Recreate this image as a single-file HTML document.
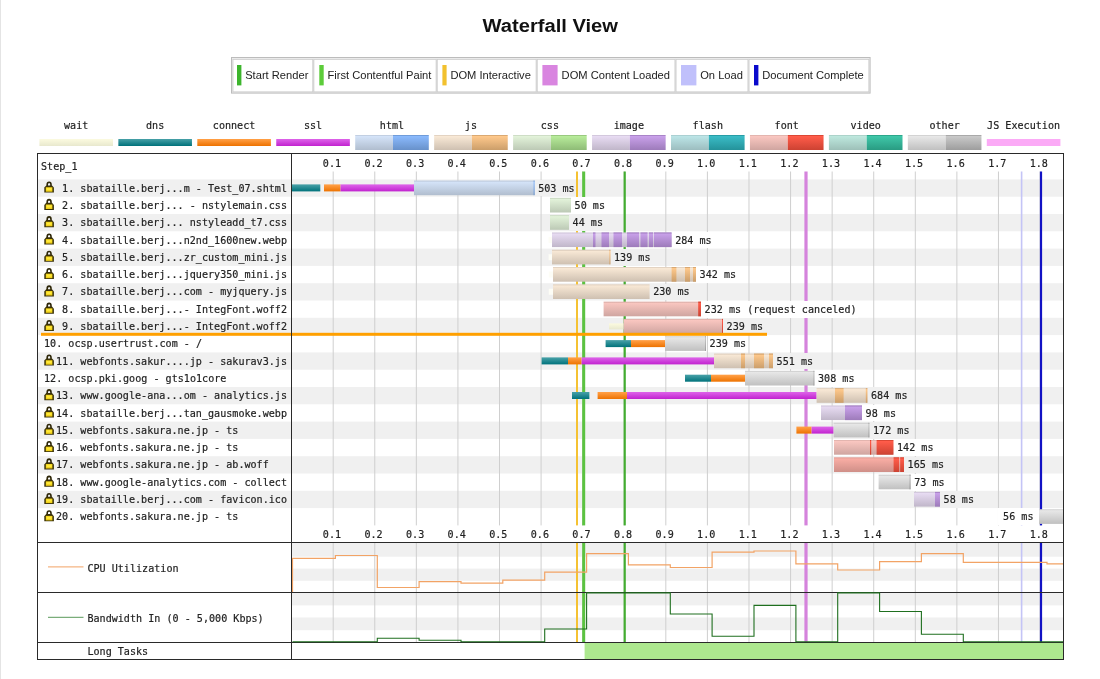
<!DOCTYPE html>
<html lang="en">
<head>
<meta charset="utf-8">
<title>Waterfall View</title>
<style>
html,body{margin:0;padding:0;background:#fff;}
body{width:1100px;height:679px;overflow:hidden;}
svg{display:block;}
text{white-space:pre;}
</style>
</head>
<body>
<svg width="1100" height="679" viewBox="0 0 1100 679">
<defs>
<linearGradient id="g_wait" x1="0" y1="0" x2="0" y2="1"><stop offset="0" stop-color="#faf9de"/><stop offset="0.06" stop-color="#faf9de"/><stop offset="0.1" stop-color="#faf9de"/><stop offset="1" stop-color="#e8e8ce"/></linearGradient>
<linearGradient id="g_dns" x1="0" y1="0" x2="0" y2="1"><stop offset="0" stop-color="#429da4"/><stop offset="0.06" stop-color="#429da4"/><stop offset="0.1" stop-color="#429da4"/><stop offset="1" stop-color="#00727b"/></linearGradient>
<linearGradient id="g_connect" x1="0" y1="0" x2="0" y2="1"><stop offset="0" stop-color="#ff9d42"/><stop offset="0.06" stop-color="#ff9d42"/><stop offset="0.1" stop-color="#ff9d42"/><stop offset="1" stop-color="#ed7200"/></linearGradient>
<linearGradient id="g_ssl" x1="0" y1="0" x2="0" y2="1"><stop offset="0" stop-color="#db5ee7"/><stop offset="0.06" stop-color="#db5ee7"/><stop offset="0.1" stop-color="#db5ee7"/><stop offset="1" stop-color="#c122cf"/></linearGradient>
<linearGradient id="g_html_l70" x1="0" y1="0" x2="0" y2="1"><stop offset="0" stop-color="#c2cfe2"/><stop offset="0.06" stop-color="#c2cfe2"/><stop offset="0.1" stop-color="#d4e3f8"/><stop offset="1" stop-color="#b0bdce"/></linearGradient>
<linearGradient id="g_html" x1="0" y1="0" x2="0" y2="1"><stop offset="0" stop-color="#709cd9"/><stop offset="0.06" stop-color="#709cd9"/><stop offset="0.1" stop-color="#8ab9fc"/><stop offset="1" stop-color="#6891ca"/></linearGradient>
<linearGradient id="g_js_l70" x1="0" y1="0" x2="0" y2="1"><stop offset="0" stop-color="#e3d3c2"/><stop offset="0.06" stop-color="#e3d3c2"/><stop offset="0.1" stop-color="#f8e8d5"/><stop offset="1" stop-color="#cec0b1"/></linearGradient>
<linearGradient id="g_js" x1="0" y1="0" x2="0" y2="1"><stop offset="0" stop-color="#daa972"/><stop offset="0.06" stop-color="#daa972"/><stop offset="0.1" stop-color="#fec88b"/><stop offset="1" stop-color="#cb9e6a"/></linearGradient>
<linearGradient id="g_css_l70" x1="0" y1="0" x2="0" y2="1"><stop offset="0" stop-color="#ceddc6"/><stop offset="0.06" stop-color="#ceddc6"/><stop offset="0.1" stop-color="#e2f2d9"/><stop offset="1" stop-color="#bcc9b5"/></linearGradient>
<linearGradient id="g_css" x1="0" y1="0" x2="0" y2="1"><stop offset="0" stop-color="#99c97f"/><stop offset="0.06" stop-color="#99c97f"/><stop offset="0.1" stop-color="#b7eb9a"/><stop offset="1" stop-color="#8ebb76"/></linearGradient>
<linearGradient id="g_image_l70" x1="0" y1="0" x2="0" y2="1"><stop offset="0" stop-color="#d3c8dd"/><stop offset="0.06" stop-color="#d3c8dd"/><stop offset="0.1" stop-color="#e7dbf2"/><stop offset="1" stop-color="#c0b6c9"/></linearGradient>
<linearGradient id="g_image" x1="0" y1="0" x2="0" y2="1"><stop offset="0" stop-color="#a984c8"/><stop offset="0.06" stop-color="#a984c8"/><stop offset="0.1" stop-color="#c8a0e9"/><stop offset="1" stop-color="#9d7bba"/></linearGradient>
<linearGradient id="g_flash_l70" x1="0" y1="0" x2="0" y2="1"><stop offset="0" stop-color="#abd0d2"/><stop offset="0.06" stop-color="#abd0d2"/><stop offset="0.1" stop-color="#bbe4e6"/><stop offset="1" stop-color="#9cbdbf"/></linearGradient>
<linearGradient id="g_flash" x1="0" y1="0" x2="0" y2="1"><stop offset="0" stop-color="#279da6"/><stop offset="0.06" stop-color="#279da6"/><stop offset="0.1" stop-color="#3abbc5"/><stop offset="1" stop-color="#24929a"/></linearGradient>
<linearGradient id="g_font_l70" x1="0" y1="0" x2="0" y2="1"><stop offset="0" stop-color="#e3b5af"/><stop offset="0.06" stop-color="#e3b5af"/><stop offset="0.1" stop-color="#f9c6c0"/><stop offset="1" stop-color="#cfa5a0"/></linearGradient>
<linearGradient id="g_font" x1="0" y1="0" x2="0" y2="1"><stop offset="0" stop-color="#db4735"/><stop offset="0.06" stop-color="#db4735"/><stop offset="0.1" stop-color="#ff5c4a"/><stop offset="1" stop-color="#cc4232"/></linearGradient>
<linearGradient id="g_video_l70" x1="0" y1="0" x2="0" y2="1"><stop offset="0" stop-color="#acd3ca"/><stop offset="0.06" stop-color="#acd3ca"/><stop offset="0.1" stop-color="#bde7dd"/><stop offset="1" stop-color="#9dc0b8"/></linearGradient>
<linearGradient id="g_video" x1="0" y1="0" x2="0" y2="1"><stop offset="0" stop-color="#2ca78b"/><stop offset="0.06" stop-color="#2ca78b"/><stop offset="0.1" stop-color="#3fc6a8"/><stop offset="1" stop-color="#299b82"/></linearGradient>
<linearGradient id="g_other_l70" x1="0" y1="0" x2="0" y2="1"><stop offset="0" stop-color="#d3d3d3"/><stop offset="0.06" stop-color="#d3d3d3"/><stop offset="0.1" stop-color="#e7e7e7"/><stop offset="1" stop-color="#c0c0c0"/></linearGradient>
<linearGradient id="g_other" x1="0" y1="0" x2="0" y2="1"><stop offset="0" stop-color="#a9a9a9"/><stop offset="0.06" stop-color="#a9a9a9"/><stop offset="0.1" stop-color="#c8c8c8"/><stop offset="1" stop-color="#9d9d9d"/></linearGradient>
<linearGradient id="g_font_l55" x1="0" y1="0" x2="0" y2="1"><stop offset="0" stop-color="#e39e96"/><stop offset="0.06" stop-color="#e39e96"/><stop offset="0.1" stop-color="#f9ada4"/><stop offset="1" stop-color="#cf8f88"/></linearGradient>
</defs>
<rect x="0.00" y="0.00" width="1100.00" height="679.00" fill="#fff" />
<rect x="0.00" y="0.00" width="1.00" height="679.00" fill="#e4e4e4" />
<text x="482.5" y="32.3" font-family="'Liberation Sans',Arial,sans-serif" font-weight="bold" font-size="18.8" textLength="135.5" lengthAdjust="spacingAndGlyphs" fill="#111">Waterfall View</text>
<rect x="231.50" y="57.50" width="638.60" height="35.60" fill="#f1f1f1" stroke="#bcbcbc" stroke-width="1"/>
<rect x="232.90" y="59.30" width="79.90" height="32.60" fill="#fff" stroke="#cdcdcd" stroke-width="1"/>
<rect x="313.80" y="59.30" width="122.40" height="32.60" fill="#fff" stroke="#cdcdcd" stroke-width="1"/>
<rect x="437.20" y="59.30" width="99.00" height="32.60" fill="#fff" stroke="#cdcdcd" stroke-width="1"/>
<rect x="537.20" y="59.30" width="137.80" height="32.60" fill="#fff" stroke="#cdcdcd" stroke-width="1"/>
<rect x="676.00" y="59.30" width="72.00" height="32.60" fill="#fff" stroke="#cdcdcd" stroke-width="1"/>
<rect x="749.00" y="59.30" width="119.90" height="32.60" fill="#fff" stroke="#cdcdcd" stroke-width="1"/>
<rect x="237.00" y="65.00" width="4.40" height="20.40" fill="#3db52d" />
<text x="245.2" y="79.2" font-family="'Liberation Sans',Arial,sans-serif" font-size="11.15" fill="#222">Start Render</text>
<rect x="319.30" y="65.00" width="4.40" height="20.40" fill="#5ccc3a" />
<text x="327.4" y="79.2" font-family="'Liberation Sans',Arial,sans-serif" font-size="11.15" fill="#222">First Contentful Paint</text>
<rect x="442.40" y="65.00" width="4.20" height="20.40" fill="#f2c12e" />
<text x="450.4" y="79.2" font-family="'Liberation Sans',Arial,sans-serif" font-size="11.15" fill="#222">DOM Interactive</text>
<rect x="542.40" y="65.00" width="15.20" height="20.40" fill="#d985e0" />
<text x="561.6" y="79.2" font-family="'Liberation Sans',Arial,sans-serif" font-size="11.15" fill="#222">DOM Content Loaded</text>
<rect x="681.00" y="65.00" width="15.40" height="20.40" fill="#c0c0fb" />
<text x="700.2" y="79.2" font-family="'Liberation Sans',Arial,sans-serif" font-size="11.15" fill="#222">On Load</text>
<rect x="754.00" y="65.00" width="4.40" height="20.40" fill="#0a0acc" />
<text x="762.2" y="79.2" font-family="'Liberation Sans',Arial,sans-serif" font-size="11.15" fill="#222">Document Complete</text>
<text transform="translate(64.04,128.70) scale(1,1.12)" font-family="'DejaVu Sans Mono','Liberation Mono',monospace" font-size="10.1" textLength="24.32" lengthAdjust="spacing" fill="#222" stroke="#222" stroke-width="0.18" xml:space="preserve">wait</text>
<rect x="39.40" y="139.00" width="73.60" height="7.00" fill="url(#g_wait)" />
<text transform="translate(146.03,128.70) scale(1,1.12)" font-family="'DejaVu Sans Mono','Liberation Mono',monospace" font-size="10.1" textLength="18.24" lengthAdjust="spacing" fill="#222" stroke="#222" stroke-width="0.18" xml:space="preserve">dns</text>
<rect x="118.35" y="139.00" width="73.60" height="7.00" fill="url(#g_dns)" />
<text transform="translate(212.82,128.70) scale(1,1.12)" font-family="'DejaVu Sans Mono','Liberation Mono',monospace" font-size="10.1" textLength="42.56" lengthAdjust="spacing" fill="#222" stroke="#222" stroke-width="0.18" xml:space="preserve">connect</text>
<rect x="197.30" y="139.00" width="73.60" height="7.00" fill="url(#g_connect)" />
<text transform="translate(303.93,128.70) scale(1,1.12)" font-family="'DejaVu Sans Mono','Liberation Mono',monospace" font-size="10.1" textLength="18.24" lengthAdjust="spacing" fill="#222" stroke="#222" stroke-width="0.18" xml:space="preserve">ssl</text>
<rect x="276.25" y="139.00" width="73.60" height="7.00" fill="url(#g_ssl)" />
<text transform="translate(379.84,128.70) scale(1,1.12)" font-family="'DejaVu Sans Mono','Liberation Mono',monospace" font-size="10.1" textLength="24.32" lengthAdjust="spacing" fill="#222" stroke="#222" stroke-width="0.18" xml:space="preserve">html</text>
<rect x="355.20" y="135.00" width="37.80" height="15.00" fill="url(#g_html_l70)" />
<rect x="393.00" y="135.00" width="35.80" height="15.00" fill="url(#g_html)" />
<text transform="translate(464.87,128.70) scale(1,1.12)" font-family="'DejaVu Sans Mono','Liberation Mono',monospace" font-size="10.1" textLength="12.16" lengthAdjust="spacing" fill="#222" stroke="#222" stroke-width="0.18" xml:space="preserve">js</text>
<rect x="434.15" y="135.00" width="37.80" height="15.00" fill="url(#g_js_l70)" />
<rect x="471.95" y="135.00" width="35.80" height="15.00" fill="url(#g_js)" />
<text transform="translate(540.78,128.70) scale(1,1.12)" font-family="'DejaVu Sans Mono','Liberation Mono',monospace" font-size="10.1" textLength="18.24" lengthAdjust="spacing" fill="#222" stroke="#222" stroke-width="0.18" xml:space="preserve">css</text>
<rect x="513.10" y="135.00" width="37.80" height="15.00" fill="url(#g_css_l70)" />
<rect x="550.90" y="135.00" width="35.80" height="15.00" fill="url(#g_css)" />
<text transform="translate(613.65,128.70) scale(1,1.12)" font-family="'DejaVu Sans Mono','Liberation Mono',monospace" font-size="10.1" textLength="30.40" lengthAdjust="spacing" fill="#222" stroke="#222" stroke-width="0.18" xml:space="preserve">image</text>
<rect x="592.05" y="135.00" width="37.80" height="15.00" fill="url(#g_image_l70)" />
<rect x="629.85" y="135.00" width="35.80" height="15.00" fill="url(#g_image)" />
<text transform="translate(692.60,128.70) scale(1,1.12)" font-family="'DejaVu Sans Mono','Liberation Mono',monospace" font-size="10.1" textLength="30.40" lengthAdjust="spacing" fill="#222" stroke="#222" stroke-width="0.18" xml:space="preserve">flash</text>
<rect x="671.00" y="135.00" width="37.80" height="15.00" fill="url(#g_flash_l70)" />
<rect x="708.80" y="135.00" width="35.80" height="15.00" fill="url(#g_flash)" />
<text transform="translate(774.59,128.70) scale(1,1.12)" font-family="'DejaVu Sans Mono','Liberation Mono',monospace" font-size="10.1" textLength="24.32" lengthAdjust="spacing" fill="#222" stroke="#222" stroke-width="0.18" xml:space="preserve">font</text>
<rect x="749.95" y="135.00" width="37.80" height="15.00" fill="url(#g_font_l70)" />
<rect x="787.75" y="135.00" width="35.80" height="15.00" fill="url(#g_font)" />
<text transform="translate(850.50,128.70) scale(1,1.12)" font-family="'DejaVu Sans Mono','Liberation Mono',monospace" font-size="10.1" textLength="30.40" lengthAdjust="spacing" fill="#222" stroke="#222" stroke-width="0.18" xml:space="preserve">video</text>
<rect x="828.90" y="135.00" width="37.80" height="15.00" fill="url(#g_video_l70)" />
<rect x="866.70" y="135.00" width="35.80" height="15.00" fill="url(#g_video)" />
<text transform="translate(929.45,128.70) scale(1,1.12)" font-family="'DejaVu Sans Mono','Liberation Mono',monospace" font-size="10.1" textLength="30.40" lengthAdjust="spacing" fill="#222" stroke="#222" stroke-width="0.18" xml:space="preserve">other</text>
<rect x="907.85" y="135.00" width="37.80" height="15.00" fill="url(#g_other_l70)" />
<rect x="945.65" y="135.00" width="35.80" height="15.00" fill="url(#g_other)" />
<text transform="translate(987.12,128.70) scale(1,1.12)" font-family="'DejaVu Sans Mono','Liberation Mono',monospace" font-size="10.1" textLength="72.96" lengthAdjust="spacing" fill="#222" stroke="#222" stroke-width="0.18" xml:space="preserve">JS Execution</text>
<rect x="986.80" y="139.00" width="73.60" height="7.00" fill="#fbaaf6" />
<rect x="38.00" y="179.40" width="1025.00" height="17.30" fill="#f0f0f0" />
<rect x="38.00" y="214.00" width="1025.00" height="17.30" fill="#f0f0f0" />
<rect x="38.00" y="248.60" width="1025.00" height="17.30" fill="#f0f0f0" />
<rect x="38.00" y="283.20" width="1025.00" height="17.30" fill="#f0f0f0" />
<rect x="38.00" y="317.80" width="1025.00" height="17.30" fill="#f0f0f0" />
<rect x="38.00" y="352.40" width="1025.00" height="17.30" fill="#f0f0f0" />
<rect x="38.00" y="387.00" width="1025.00" height="17.30" fill="#f0f0f0" />
<rect x="38.00" y="421.60" width="1025.00" height="17.30" fill="#f0f0f0" />
<rect x="38.00" y="456.20" width="1025.00" height="17.30" fill="#f0f0f0" />
<rect x="38.00" y="490.80" width="1025.00" height="17.30" fill="#f0f0f0" />
<rect x="292.00" y="543.00" width="771.00" height="13.70" fill="#f0f0f0" />
<rect x="292.00" y="568.60" width="771.00" height="12.20" fill="#f0f0f0" />
<rect x="292.00" y="593.00" width="771.00" height="12.40" fill="#f0f0f0" />
<rect x="292.00" y="617.50" width="771.00" height="12.70" fill="#f0f0f0" />
<rect x="332.68" y="171.50" width="1.00" height="353.90" fill="#cfcfcf" />
<rect x="332.68" y="543.00" width="1.00" height="99.00" fill="#cfcfcf" />
<rect x="374.26" y="171.50" width="1.00" height="353.90" fill="#cfcfcf" />
<rect x="374.26" y="543.00" width="1.00" height="99.00" fill="#cfcfcf" />
<rect x="415.84" y="171.50" width="1.00" height="353.90" fill="#cfcfcf" />
<rect x="415.84" y="543.00" width="1.00" height="99.00" fill="#cfcfcf" />
<rect x="457.42" y="171.50" width="1.00" height="353.90" fill="#cfcfcf" />
<rect x="457.42" y="543.00" width="1.00" height="99.00" fill="#cfcfcf" />
<rect x="499.00" y="171.50" width="1.00" height="353.90" fill="#cfcfcf" />
<rect x="499.00" y="543.00" width="1.00" height="99.00" fill="#cfcfcf" />
<rect x="540.58" y="171.50" width="1.00" height="353.90" fill="#cfcfcf" />
<rect x="540.58" y="543.00" width="1.00" height="99.00" fill="#cfcfcf" />
<rect x="582.16" y="171.50" width="1.00" height="353.90" fill="#cfcfcf" />
<rect x="582.16" y="543.00" width="1.00" height="99.00" fill="#cfcfcf" />
<rect x="623.74" y="171.50" width="1.00" height="353.90" fill="#cfcfcf" />
<rect x="623.74" y="543.00" width="1.00" height="99.00" fill="#cfcfcf" />
<rect x="665.32" y="171.50" width="1.00" height="353.90" fill="#cfcfcf" />
<rect x="665.32" y="543.00" width="1.00" height="99.00" fill="#cfcfcf" />
<rect x="706.90" y="171.50" width="1.00" height="353.90" fill="#cfcfcf" />
<rect x="706.90" y="543.00" width="1.00" height="99.00" fill="#cfcfcf" />
<rect x="748.48" y="171.50" width="1.00" height="353.90" fill="#cfcfcf" />
<rect x="748.48" y="543.00" width="1.00" height="99.00" fill="#cfcfcf" />
<rect x="790.06" y="171.50" width="1.00" height="353.90" fill="#cfcfcf" />
<rect x="790.06" y="543.00" width="1.00" height="99.00" fill="#cfcfcf" />
<rect x="831.64" y="171.50" width="1.00" height="353.90" fill="#cfcfcf" />
<rect x="831.64" y="543.00" width="1.00" height="99.00" fill="#cfcfcf" />
<rect x="873.22" y="171.50" width="1.00" height="353.90" fill="#cfcfcf" />
<rect x="873.22" y="543.00" width="1.00" height="99.00" fill="#cfcfcf" />
<rect x="914.80" y="171.50" width="1.00" height="353.90" fill="#cfcfcf" />
<rect x="914.80" y="543.00" width="1.00" height="99.00" fill="#cfcfcf" />
<rect x="956.38" y="171.50" width="1.00" height="353.90" fill="#cfcfcf" />
<rect x="956.38" y="543.00" width="1.00" height="99.00" fill="#cfcfcf" />
<rect x="997.96" y="171.50" width="1.00" height="353.90" fill="#cfcfcf" />
<rect x="997.96" y="543.00" width="1.00" height="99.00" fill="#cfcfcf" />
<rect x="1039.54" y="171.50" width="1.00" height="353.90" fill="#cfcfcf" />
<rect x="1039.54" y="543.00" width="1.00" height="99.00" fill="#cfcfcf" />
<rect x="576.00" y="171.50" width="2.00" height="353.90" fill="#f5c233" />
<rect x="576.00" y="543.00" width="2.00" height="99.00" fill="#f5c233" />
<rect x="582.20" y="171.50" width="3.00" height="353.90" fill="#5bc340" />
<rect x="582.20" y="543.00" width="3.00" height="99.00" fill="#5bc340" />
<rect x="623.60" y="171.50" width="2.20" height="353.90" fill="#43ac30" />
<rect x="623.60" y="543.00" width="2.20" height="99.00" fill="#43ac30" />
<rect x="804.40" y="171.50" width="3.20" height="353.90" fill="#d583dc" />
<rect x="804.40" y="543.00" width="3.20" height="99.00" fill="#d583dc" />
<rect x="1020.80" y="171.50" width="1.60" height="353.90" fill="#c4c4f6" />
<rect x="1020.80" y="543.00" width="1.60" height="99.00" fill="#c4c4f6" />
<rect x="1039.90" y="171.50" width="2.20" height="353.90" fill="#1212c4" />
<rect x="1039.90" y="543.00" width="2.20" height="99.00" fill="#1212c4" />
<g transform="translate(44.10,181.30)"><path d="M3.1 5 V3.3 A1.9 2.3 0 0 1 6.9 3.3 V5" fill="none" stroke="#2d2608" stroke-width="1.6"/><path d="M0.2 11.3 V6.3 L2.1 4.1 H7.9 L9.8 6.3 V11.3 Z" fill="#3a3108"/><rect x="1.7" y="5.9" width="6.6" height="4.5" fill="#f0d01a"/><rect x="2.4" y="6.7" width="5.2" height="2.2" fill="#ffe83a"/></g>
<text transform="translate(56.00,191.60) scale(1,1.12)" font-family="'DejaVu Sans Mono','Liberation Mono',monospace" font-size="10.1" textLength="231.04" lengthAdjust="spacing" fill="#222" stroke="#222" stroke-width="0.18" xml:space="preserve"> 1. sbataille.berj...m - Test_07.shtml</text>
<rect x="292.00" y="184.40" width="28.30" height="7.00" fill="url(#g_dns)" />
<rect x="324.00" y="184.40" width="16.50" height="7.00" fill="url(#g_connect)" />
<rect x="340.50" y="184.40" width="73.50" height="7.00" fill="url(#g_ssl)" />
<rect x="414.00" y="180.50" width="120.60" height="14.70" fill="url(#g_html_l70)" />
<rect x="533.60" y="180.50" width="1.00" height="14.70" fill="url(#g_html)" />
<rect x="537.00" y="180.00" width="38.98" height="16.00" fill="#f0f0f0" />
<text transform="translate(538.20,191.60) scale(1,1.12)" font-family="'DejaVu Sans Mono','Liberation Mono',monospace" font-size="10.1" textLength="36.48" lengthAdjust="spacing" fill="#222" stroke="#222" stroke-width="0.18" xml:space="preserve">503 ms</text>
<g transform="translate(44.10,198.60)"><path d="M3.1 5 V3.3 A1.9 2.3 0 0 1 6.9 3.3 V5" fill="none" stroke="#2d2608" stroke-width="1.6"/><path d="M0.2 11.3 V6.3 L2.1 4.1 H7.9 L9.8 6.3 V11.3 Z" fill="#3a3108"/><rect x="1.7" y="5.9" width="6.6" height="4.5" fill="#f0d01a"/><rect x="2.4" y="6.7" width="5.2" height="2.2" fill="#ffe83a"/></g>
<text transform="translate(56.00,208.90) scale(1,1.12)" font-family="'DejaVu Sans Mono','Liberation Mono',monospace" font-size="10.1" textLength="231.04" lengthAdjust="spacing" fill="#222" stroke="#222" stroke-width="0.18" xml:space="preserve"> 2. sbataille.berj... - nstylemain.css</text>
<rect x="550.00" y="197.80" width="21.00" height="14.70" fill="url(#g_css_l70)" />
<rect x="573.40" y="197.00" width="32.90" height="17.00" fill="#fff" />
<text transform="translate(574.60,208.90) scale(1,1.12)" font-family="'DejaVu Sans Mono','Liberation Mono',monospace" font-size="10.1" textLength="30.40" lengthAdjust="spacing" fill="#222" stroke="#222" stroke-width="0.18" xml:space="preserve">50 ms</text>
<g transform="translate(44.10,215.90)"><path d="M3.1 5 V3.3 A1.9 2.3 0 0 1 6.9 3.3 V5" fill="none" stroke="#2d2608" stroke-width="1.6"/><path d="M0.2 11.3 V6.3 L2.1 4.1 H7.9 L9.8 6.3 V11.3 Z" fill="#3a3108"/><rect x="1.7" y="5.9" width="6.6" height="4.5" fill="#f0d01a"/><rect x="2.4" y="6.7" width="5.2" height="2.2" fill="#ffe83a"/></g>
<text transform="translate(56.00,226.20) scale(1,1.12)" font-family="'DejaVu Sans Mono','Liberation Mono',monospace" font-size="10.1" textLength="231.04" lengthAdjust="spacing" fill="#222" stroke="#222" stroke-width="0.18" xml:space="preserve"> 3. sbataille.berj... nstyleadd_t7.css</text>
<rect x="550.00" y="215.10" width="19.00" height="14.70" fill="url(#g_css_l70)" />
<rect x="571.40" y="214.00" width="32.90" height="17.00" fill="#f0f0f0" />
<text transform="translate(572.60,226.20) scale(1,1.12)" font-family="'DejaVu Sans Mono','Liberation Mono',monospace" font-size="10.1" textLength="30.40" lengthAdjust="spacing" fill="#222" stroke="#222" stroke-width="0.18" xml:space="preserve">44 ms</text>
<g transform="translate(44.10,233.20)"><path d="M3.1 5 V3.3 A1.9 2.3 0 0 1 6.9 3.3 V5" fill="none" stroke="#2d2608" stroke-width="1.6"/><path d="M0.2 11.3 V6.3 L2.1 4.1 H7.9 L9.8 6.3 V11.3 Z" fill="#3a3108"/><rect x="1.7" y="5.9" width="6.6" height="4.5" fill="#f0d01a"/><rect x="2.4" y="6.7" width="5.2" height="2.2" fill="#ffe83a"/></g>
<text transform="translate(56.00,243.50) scale(1,1.12)" font-family="'DejaVu Sans Mono','Liberation Mono',monospace" font-size="10.1" textLength="231.04" lengthAdjust="spacing" fill="#222" stroke="#222" stroke-width="0.18" xml:space="preserve"> 4. sbataille.berj...n2nd_1600new.webp</text>
<rect x="548.60" y="236.90" width="3.40" height="6.00" fill="#fdfdf6" />
<rect x="552.00" y="232.40" width="119.60" height="14.70" fill="url(#g_image_l70)" />
<rect x="593.00" y="232.40" width="2.50" height="14.70" fill="url(#g_image)" />
<rect x="601.50" y="232.40" width="7.50" height="14.70" fill="url(#g_image)" />
<rect x="613.50" y="232.40" width="8.50" height="14.70" fill="url(#g_image)" />
<rect x="627.00" y="232.40" width="12.00" height="14.70" fill="url(#g_image)" />
<rect x="640.50" y="232.40" width="7.00" height="14.70" fill="url(#g_image)" />
<rect x="649.00" y="232.40" width="4.00" height="14.70" fill="url(#g_image)" />
<rect x="654.00" y="232.40" width="17.60" height="14.70" fill="url(#g_image)" />
<rect x="674.00" y="232.00" width="38.98" height="16.00" fill="#fff" />
<text transform="translate(675.20,243.50) scale(1,1.12)" font-family="'DejaVu Sans Mono','Liberation Mono',monospace" font-size="10.1" textLength="36.48" lengthAdjust="spacing" fill="#222" stroke="#222" stroke-width="0.18" xml:space="preserve">284 ms</text>
<g transform="translate(44.10,250.50)"><path d="M3.1 5 V3.3 A1.9 2.3 0 0 1 6.9 3.3 V5" fill="none" stroke="#2d2608" stroke-width="1.6"/><path d="M0.2 11.3 V6.3 L2.1 4.1 H7.9 L9.8 6.3 V11.3 Z" fill="#3a3108"/><rect x="1.7" y="5.9" width="6.6" height="4.5" fill="#f0d01a"/><rect x="2.4" y="6.7" width="5.2" height="2.2" fill="#ffe83a"/></g>
<text transform="translate(56.00,260.80) scale(1,1.12)" font-family="'DejaVu Sans Mono','Liberation Mono',monospace" font-size="10.1" textLength="231.04" lengthAdjust="spacing" fill="#222" stroke="#222" stroke-width="0.18" xml:space="preserve"> 5. sbataille.berj...zr_custom_mini.js</text>
<rect x="548.60" y="254.20" width="3.40" height="6.00" fill="#fdfdf6" />
<rect x="552.00" y="249.70" width="58.40" height="14.70" fill="url(#g_js_l70)" />
<rect x="609.40" y="249.70" width="1.00" height="14.70" fill="url(#g_js)" />
<rect x="612.80" y="249.00" width="38.98" height="17.00" fill="#f0f0f0" />
<text transform="translate(614.00,260.80) scale(1,1.12)" font-family="'DejaVu Sans Mono','Liberation Mono',monospace" font-size="10.1" textLength="36.48" lengthAdjust="spacing" fill="#222" stroke="#222" stroke-width="0.18" xml:space="preserve">139 ms</text>
<g transform="translate(44.10,267.80)"><path d="M3.1 5 V3.3 A1.9 2.3 0 0 1 6.9 3.3 V5" fill="none" stroke="#2d2608" stroke-width="1.6"/><path d="M0.2 11.3 V6.3 L2.1 4.1 H7.9 L9.8 6.3 V11.3 Z" fill="#3a3108"/><rect x="1.7" y="5.9" width="6.6" height="4.5" fill="#f0d01a"/><rect x="2.4" y="6.7" width="5.2" height="2.2" fill="#ffe83a"/></g>
<text transform="translate(56.00,278.10) scale(1,1.12)" font-family="'DejaVu Sans Mono','Liberation Mono',monospace" font-size="10.1" textLength="231.04" lengthAdjust="spacing" fill="#222" stroke="#222" stroke-width="0.18" xml:space="preserve"> 6. sbataille.berj...jquery350_mini.js</text>
<rect x="548.80" y="271.50" width="4.20" height="6.00" fill="#fdfdf6" />
<rect x="553.00" y="267.00" width="143.00" height="14.70" fill="url(#g_js_l70)" />
<rect x="671.60" y="267.00" width="4.80" height="14.70" fill="url(#g_js)" />
<rect x="685.00" y="267.00" width="5.00" height="14.70" fill="url(#g_js)" />
<rect x="693.00" y="267.00" width="3.00" height="14.70" fill="url(#g_js)" />
<rect x="698.40" y="266.00" width="38.98" height="17.00" fill="#fff" />
<text transform="translate(699.60,278.10) scale(1,1.12)" font-family="'DejaVu Sans Mono','Liberation Mono',monospace" font-size="10.1" textLength="36.48" lengthAdjust="spacing" fill="#222" stroke="#222" stroke-width="0.18" xml:space="preserve">342 ms</text>
<g transform="translate(44.10,285.10)"><path d="M3.1 5 V3.3 A1.9 2.3 0 0 1 6.9 3.3 V5" fill="none" stroke="#2d2608" stroke-width="1.6"/><path d="M0.2 11.3 V6.3 L2.1 4.1 H7.9 L9.8 6.3 V11.3 Z" fill="#3a3108"/><rect x="1.7" y="5.9" width="6.6" height="4.5" fill="#f0d01a"/><rect x="2.4" y="6.7" width="5.2" height="2.2" fill="#ffe83a"/></g>
<text transform="translate(56.00,295.40) scale(1,1.12)" font-family="'DejaVu Sans Mono','Liberation Mono',monospace" font-size="10.1" textLength="231.04" lengthAdjust="spacing" fill="#222" stroke="#222" stroke-width="0.18" xml:space="preserve"> 7. sbataille.berj...com - myjquery.js</text>
<rect x="548.80" y="288.80" width="4.20" height="6.00" fill="#fdfdf6" />
<rect x="553.00" y="284.30" width="96.60" height="14.70" fill="url(#g_js_l70)" />
<rect x="652.00" y="284.00" width="38.98" height="16.00" fill="#f0f0f0" />
<text transform="translate(653.20,295.40) scale(1,1.12)" font-family="'DejaVu Sans Mono','Liberation Mono',monospace" font-size="10.1" textLength="36.48" lengthAdjust="spacing" fill="#222" stroke="#222" stroke-width="0.18" xml:space="preserve">230 ms</text>
<g transform="translate(44.10,302.40)"><path d="M3.1 5 V3.3 A1.9 2.3 0 0 1 6.9 3.3 V5" fill="none" stroke="#2d2608" stroke-width="1.6"/><path d="M0.2 11.3 V6.3 L2.1 4.1 H7.9 L9.8 6.3 V11.3 Z" fill="#3a3108"/><rect x="1.7" y="5.9" width="6.6" height="4.5" fill="#f0d01a"/><rect x="2.4" y="6.7" width="5.2" height="2.2" fill="#ffe83a"/></g>
<text transform="translate(56.00,312.70) scale(1,1.12)" font-family="'DejaVu Sans Mono','Liberation Mono',monospace" font-size="10.1" textLength="231.04" lengthAdjust="spacing" fill="#222" stroke="#222" stroke-width="0.18" xml:space="preserve"> 8. sbataille.berj...- IntegFont.woff2</text>
<rect x="603.60" y="301.60" width="97.40" height="14.70" fill="url(#g_font_l70)" />
<rect x="698.20" y="301.60" width="2.80" height="14.70" fill="url(#g_font)" />
<rect x="703.40" y="301.00" width="154.50" height="17.00" fill="#fff" />
<text transform="translate(704.60,312.70) scale(1,1.12)" font-family="'DejaVu Sans Mono','Liberation Mono',monospace" font-size="10.1" textLength="152.00" lengthAdjust="spacing" fill="#222" stroke="#222" stroke-width="0.18" xml:space="preserve">232 ms (request canceled)</text>
<g transform="translate(44.10,319.70)"><path d="M3.1 5 V3.3 A1.9 2.3 0 0 1 6.9 3.3 V5" fill="none" stroke="#2d2608" stroke-width="1.6"/><path d="M0.2 11.3 V6.3 L2.1 4.1 H7.9 L9.8 6.3 V11.3 Z" fill="#3a3108"/><rect x="1.7" y="5.9" width="6.6" height="4.5" fill="#f0d01a"/><rect x="2.4" y="6.7" width="5.2" height="2.2" fill="#ffe83a"/></g>
<text transform="translate(56.00,330.00) scale(1,1.12)" font-family="'DejaVu Sans Mono','Liberation Mono',monospace" font-size="10.1" textLength="231.04" lengthAdjust="spacing" fill="#222" stroke="#222" stroke-width="0.18" xml:space="preserve"> 9. sbataille.berj...- IntegFont.woff2</text>
<rect x="609.00" y="323.40" width="14.60" height="6.00" fill="url(#g_wait)" />
<rect x="623.60" y="318.90" width="99.40" height="14.70" fill="url(#g_font_l70)" />
<rect x="722.00" y="318.90" width="1.00" height="14.70" fill="url(#g_font)" />
<rect x="725.40" y="318.00" width="38.98" height="17.00" fill="#f0f0f0" />
<text transform="translate(726.60,330.00) scale(1,1.12)" font-family="'DejaVu Sans Mono','Liberation Mono',monospace" font-size="10.1" textLength="36.48" lengthAdjust="spacing" fill="#222" stroke="#222" stroke-width="0.18" xml:space="preserve">239 ms</text>
<text transform="translate(44.00,347.30) scale(1,1.12)" font-family="'DejaVu Sans Mono','Liberation Mono',monospace" font-size="10.1" textLength="158.08" lengthAdjust="spacing" fill="#222" stroke="#222" stroke-width="0.18" xml:space="preserve">10. ocsp.usertrust.com - /</text>
<rect x="605.60" y="340.10" width="25.40" height="7.00" fill="url(#g_dns)" />
<rect x="631.00" y="340.10" width="34.00" height="7.00" fill="url(#g_connect)" />
<rect x="665.00" y="336.20" width="41.00" height="14.70" fill="url(#g_other_l70)" />
<rect x="705.00" y="336.20" width="1.00" height="14.70" fill="url(#g_other)" />
<rect x="708.40" y="335.00" width="38.98" height="17.00" fill="#fff" />
<text transform="translate(709.60,347.30) scale(1,1.12)" font-family="'DejaVu Sans Mono','Liberation Mono',monospace" font-size="10.1" textLength="36.48" lengthAdjust="spacing" fill="#222" stroke="#222" stroke-width="0.18" xml:space="preserve">239 ms</text>
<g transform="translate(44.10,354.30)"><path d="M3.1 5 V3.3 A1.9 2.3 0 0 1 6.9 3.3 V5" fill="none" stroke="#2d2608" stroke-width="1.6"/><path d="M0.2 11.3 V6.3 L2.1 4.1 H7.9 L9.8 6.3 V11.3 Z" fill="#3a3108"/><rect x="1.7" y="5.9" width="6.6" height="4.5" fill="#f0d01a"/><rect x="2.4" y="6.7" width="5.2" height="2.2" fill="#ffe83a"/></g>
<text transform="translate(56.00,364.60) scale(1,1.12)" font-family="'DejaVu Sans Mono','Liberation Mono',monospace" font-size="10.1" textLength="231.04" lengthAdjust="spacing" fill="#222" stroke="#222" stroke-width="0.18" xml:space="preserve">11. webfonts.sakur....jp - sakurav3.js</text>
<rect x="541.60" y="357.40" width="26.40" height="7.00" fill="url(#g_dns)" />
<rect x="568.00" y="357.40" width="13.60" height="7.00" fill="url(#g_connect)" />
<rect x="581.60" y="357.40" width="132.40" height="7.00" fill="url(#g_ssl)" />
<rect x="714.00" y="353.50" width="59.00" height="14.70" fill="url(#g_js_l70)" />
<rect x="741.00" y="353.50" width="4.00" height="14.70" fill="url(#g_js)" />
<rect x="754.00" y="353.50" width="10.00" height="14.70" fill="url(#g_js)" />
<rect x="769.00" y="353.50" width="4.00" height="14.70" fill="url(#g_js)" />
<rect x="775.40" y="353.00" width="38.98" height="16.00" fill="#f0f0f0" />
<text transform="translate(776.60,364.60) scale(1,1.12)" font-family="'DejaVu Sans Mono','Liberation Mono',monospace" font-size="10.1" textLength="36.48" lengthAdjust="spacing" fill="#222" stroke="#222" stroke-width="0.18" xml:space="preserve">551 ms</text>
<text transform="translate(44.00,381.90) scale(1,1.12)" font-family="'DejaVu Sans Mono','Liberation Mono',monospace" font-size="10.1" textLength="182.40" lengthAdjust="spacing" fill="#222" stroke="#222" stroke-width="0.18" xml:space="preserve">12. ocsp.pki.goog - gts1o1core</text>
<rect x="685.00" y="374.70" width="26.00" height="7.00" fill="url(#g_dns)" />
<rect x="711.00" y="374.70" width="34.00" height="7.00" fill="url(#g_connect)" />
<rect x="745.00" y="370.80" width="69.40" height="14.70" fill="url(#g_other_l70)" />
<rect x="813.40" y="370.80" width="1.00" height="14.70" fill="url(#g_other)" />
<rect x="816.80" y="370.00" width="38.98" height="17.00" fill="#fff" />
<text transform="translate(818.00,381.90) scale(1,1.12)" font-family="'DejaVu Sans Mono','Liberation Mono',monospace" font-size="10.1" textLength="36.48" lengthAdjust="spacing" fill="#222" stroke="#222" stroke-width="0.18" xml:space="preserve">308 ms</text>
<g transform="translate(44.10,388.90)"><path d="M3.1 5 V3.3 A1.9 2.3 0 0 1 6.9 3.3 V5" fill="none" stroke="#2d2608" stroke-width="1.6"/><path d="M0.2 11.3 V6.3 L2.1 4.1 H7.9 L9.8 6.3 V11.3 Z" fill="#3a3108"/><rect x="1.7" y="5.9" width="6.6" height="4.5" fill="#f0d01a"/><rect x="2.4" y="6.7" width="5.2" height="2.2" fill="#ffe83a"/></g>
<text transform="translate(56.00,399.20) scale(1,1.12)" font-family="'DejaVu Sans Mono','Liberation Mono',monospace" font-size="10.1" textLength="231.04" lengthAdjust="spacing" fill="#222" stroke="#222" stroke-width="0.18" xml:space="preserve">13. www.google-ana...om - analytics.js</text>
<rect x="572.00" y="392.00" width="17.40" height="7.00" fill="url(#g_dns)" />
<rect x="597.60" y="392.00" width="29.40" height="7.00" fill="url(#g_connect)" />
<rect x="627.00" y="392.00" width="189.60" height="7.00" fill="url(#g_ssl)" />
<rect x="816.60" y="388.10" width="50.80" height="14.70" fill="url(#g_js_l70)" />
<rect x="835.00" y="388.10" width="8.60" height="14.70" fill="url(#g_js)" />
<rect x="865.80" y="388.10" width="1.60" height="14.70" fill="url(#g_js)" />
<rect x="869.80" y="387.00" width="38.98" height="17.00" fill="#f0f0f0" />
<text transform="translate(871.00,399.20) scale(1,1.12)" font-family="'DejaVu Sans Mono','Liberation Mono',monospace" font-size="10.1" textLength="36.48" lengthAdjust="spacing" fill="#222" stroke="#222" stroke-width="0.18" xml:space="preserve">684 ms</text>
<g transform="translate(44.10,406.20)"><path d="M3.1 5 V3.3 A1.9 2.3 0 0 1 6.9 3.3 V5" fill="none" stroke="#2d2608" stroke-width="1.6"/><path d="M0.2 11.3 V6.3 L2.1 4.1 H7.9 L9.8 6.3 V11.3 Z" fill="#3a3108"/><rect x="1.7" y="5.9" width="6.6" height="4.5" fill="#f0d01a"/><rect x="2.4" y="6.7" width="5.2" height="2.2" fill="#ffe83a"/></g>
<text transform="translate(56.00,416.50) scale(1,1.12)" font-family="'DejaVu Sans Mono','Liberation Mono',monospace" font-size="10.1" textLength="231.04" lengthAdjust="spacing" fill="#222" stroke="#222" stroke-width="0.18" xml:space="preserve">14. sbataille.berj...tan_gausmoke.webp</text>
<rect x="821.00" y="405.40" width="41.00" height="14.70" fill="url(#g_image_l70)" />
<rect x="845.00" y="405.40" width="17.00" height="14.70" fill="url(#g_image)" />
<rect x="864.40" y="405.00" width="32.90" height="16.00" fill="#fff" />
<text transform="translate(865.60,416.50) scale(1,1.12)" font-family="'DejaVu Sans Mono','Liberation Mono',monospace" font-size="10.1" textLength="30.40" lengthAdjust="spacing" fill="#222" stroke="#222" stroke-width="0.18" xml:space="preserve">98 ms</text>
<g transform="translate(44.10,423.50)"><path d="M3.1 5 V3.3 A1.9 2.3 0 0 1 6.9 3.3 V5" fill="none" stroke="#2d2608" stroke-width="1.6"/><path d="M0.2 11.3 V6.3 L2.1 4.1 H7.9 L9.8 6.3 V11.3 Z" fill="#3a3108"/><rect x="1.7" y="5.9" width="6.6" height="4.5" fill="#f0d01a"/><rect x="2.4" y="6.7" width="5.2" height="2.2" fill="#ffe83a"/></g>
<text transform="translate(56.00,433.80) scale(1,1.12)" font-family="'DejaVu Sans Mono','Liberation Mono',monospace" font-size="10.1" textLength="182.40" lengthAdjust="spacing" fill="#222" stroke="#222" stroke-width="0.18" xml:space="preserve">15. webfonts.sakura.ne.jp - ts</text>
<rect x="796.40" y="426.60" width="15.20" height="7.00" fill="url(#g_connect)" />
<rect x="811.60" y="426.60" width="22.00" height="7.00" fill="url(#g_ssl)" />
<rect x="833.60" y="422.70" width="35.80" height="14.70" fill="url(#g_other_l70)" />
<rect x="868.40" y="422.70" width="1.00" height="14.70" fill="url(#g_other)" />
<rect x="871.80" y="422.00" width="38.98" height="17.00" fill="#f0f0f0" />
<text transform="translate(873.00,433.80) scale(1,1.12)" font-family="'DejaVu Sans Mono','Liberation Mono',monospace" font-size="10.1" textLength="36.48" lengthAdjust="spacing" fill="#222" stroke="#222" stroke-width="0.18" xml:space="preserve">172 ms</text>
<g transform="translate(44.10,440.80)"><path d="M3.1 5 V3.3 A1.9 2.3 0 0 1 6.9 3.3 V5" fill="none" stroke="#2d2608" stroke-width="1.6"/><path d="M0.2 11.3 V6.3 L2.1 4.1 H7.9 L9.8 6.3 V11.3 Z" fill="#3a3108"/><rect x="1.7" y="5.9" width="6.6" height="4.5" fill="#f0d01a"/><rect x="2.4" y="6.7" width="5.2" height="2.2" fill="#ffe83a"/></g>
<text transform="translate(56.00,451.10) scale(1,1.12)" font-family="'DejaVu Sans Mono','Liberation Mono',monospace" font-size="10.1" textLength="182.40" lengthAdjust="spacing" fill="#222" stroke="#222" stroke-width="0.18" xml:space="preserve">16. webfonts.sakura.ne.jp - ts</text>
<rect x="834.00" y="440.00" width="59.40" height="14.70" fill="url(#g_font_l70)" />
<rect x="870.00" y="440.00" width="1.20" height="14.70" fill="url(#g_font)" />
<rect x="876.60" y="440.00" width="16.80" height="14.70" fill="url(#g_font)" />
<rect x="895.80" y="439.00" width="38.98" height="17.00" fill="#fff" />
<text transform="translate(897.00,451.10) scale(1,1.12)" font-family="'DejaVu Sans Mono','Liberation Mono',monospace" font-size="10.1" textLength="36.48" lengthAdjust="spacing" fill="#222" stroke="#222" stroke-width="0.18" xml:space="preserve">142 ms</text>
<g transform="translate(44.10,458.10)"><path d="M3.1 5 V3.3 A1.9 2.3 0 0 1 6.9 3.3 V5" fill="none" stroke="#2d2608" stroke-width="1.6"/><path d="M0.2 11.3 V6.3 L2.1 4.1 H7.9 L9.8 6.3 V11.3 Z" fill="#3a3108"/><rect x="1.7" y="5.9" width="6.6" height="4.5" fill="#f0d01a"/><rect x="2.4" y="6.7" width="5.2" height="2.2" fill="#ffe83a"/></g>
<text transform="translate(56.00,468.40) scale(1,1.12)" font-family="'DejaVu Sans Mono','Liberation Mono',monospace" font-size="10.1" textLength="212.80" lengthAdjust="spacing" fill="#222" stroke="#222" stroke-width="0.18" xml:space="preserve">17. webfonts.sakura.ne.jp - ab.woff</text>
<rect x="834.00" y="457.30" width="70.00" height="14.70" fill="url(#g_font_l55)" />
<rect x="893.60" y="457.30" width="5.40" height="14.70" fill="url(#g_font)" />
<rect x="900.20" y="457.30" width="3.80" height="14.70" fill="url(#g_font)" />
<rect x="906.40" y="457.00" width="38.98" height="16.00" fill="#f0f0f0" />
<text transform="translate(907.60,468.40) scale(1,1.12)" font-family="'DejaVu Sans Mono','Liberation Mono',monospace" font-size="10.1" textLength="36.48" lengthAdjust="spacing" fill="#222" stroke="#222" stroke-width="0.18" xml:space="preserve">165 ms</text>
<g transform="translate(44.10,475.40)"><path d="M3.1 5 V3.3 A1.9 2.3 0 0 1 6.9 3.3 V5" fill="none" stroke="#2d2608" stroke-width="1.6"/><path d="M0.2 11.3 V6.3 L2.1 4.1 H7.9 L9.8 6.3 V11.3 Z" fill="#3a3108"/><rect x="1.7" y="5.9" width="6.6" height="4.5" fill="#f0d01a"/><rect x="2.4" y="6.7" width="5.2" height="2.2" fill="#ffe83a"/></g>
<text transform="translate(56.00,485.70) scale(1,1.12)" font-family="'DejaVu Sans Mono','Liberation Mono',monospace" font-size="10.1" textLength="231.04" lengthAdjust="spacing" fill="#222" stroke="#222" stroke-width="0.18" xml:space="preserve">18. www.google-analytics.com - collect</text>
<rect x="878.60" y="474.60" width="32.00" height="14.70" fill="url(#g_other_l70)" />
<rect x="909.40" y="474.60" width="1.20" height="14.70" fill="url(#g_other)" />
<rect x="913.00" y="474.00" width="32.90" height="17.00" fill="#fff" />
<text transform="translate(914.20,485.70) scale(1,1.12)" font-family="'DejaVu Sans Mono','Liberation Mono',monospace" font-size="10.1" textLength="30.40" lengthAdjust="spacing" fill="#222" stroke="#222" stroke-width="0.18" xml:space="preserve">73 ms</text>
<g transform="translate(44.10,492.70)"><path d="M3.1 5 V3.3 A1.9 2.3 0 0 1 6.9 3.3 V5" fill="none" stroke="#2d2608" stroke-width="1.6"/><path d="M0.2 11.3 V6.3 L2.1 4.1 H7.9 L9.8 6.3 V11.3 Z" fill="#3a3108"/><rect x="1.7" y="5.9" width="6.6" height="4.5" fill="#f0d01a"/><rect x="2.4" y="6.7" width="5.2" height="2.2" fill="#ffe83a"/></g>
<text transform="translate(56.00,503.00) scale(1,1.12)" font-family="'DejaVu Sans Mono','Liberation Mono',monospace" font-size="10.1" textLength="231.04" lengthAdjust="spacing" fill="#222" stroke="#222" stroke-width="0.18" xml:space="preserve">19. sbataille.berj...com - favicon.ico</text>
<rect x="914.00" y="491.90" width="26.00" height="14.70" fill="url(#g_image_l70)" />
<rect x="935.00" y="491.90" width="5.00" height="14.70" fill="url(#g_image)" />
<rect x="942.40" y="491.00" width="32.90" height="17.00" fill="#f0f0f0" />
<text transform="translate(943.60,503.00) scale(1,1.12)" font-family="'DejaVu Sans Mono','Liberation Mono',monospace" font-size="10.1" textLength="30.40" lengthAdjust="spacing" fill="#222" stroke="#222" stroke-width="0.18" xml:space="preserve">58 ms</text>
<g transform="translate(44.10,510.00)"><path d="M3.1 5 V3.3 A1.9 2.3 0 0 1 6.9 3.3 V5" fill="none" stroke="#2d2608" stroke-width="1.6"/><path d="M0.2 11.3 V6.3 L2.1 4.1 H7.9 L9.8 6.3 V11.3 Z" fill="#3a3108"/><rect x="1.7" y="5.9" width="6.6" height="4.5" fill="#f0d01a"/><rect x="2.4" y="6.7" width="5.2" height="2.2" fill="#ffe83a"/></g>
<text transform="translate(56.00,520.30) scale(1,1.12)" font-family="'DejaVu Sans Mono','Liberation Mono',monospace" font-size="10.1" textLength="182.40" lengthAdjust="spacing" fill="#222" stroke="#222" stroke-width="0.18" xml:space="preserve">20. webfonts.sakura.ne.jp - ts</text>
<rect x="1039.00" y="509.20" width="24.00" height="14.70" fill="url(#g_other_l70)" />
<rect x="997.60" y="508.00" width="41.40" height="17.00" fill="#fff" />
<text transform="translate(1003.10,520.30) scale(1,1.12)" font-family="'DejaVu Sans Mono','Liberation Mono',monospace" font-size="10.1" textLength="30.40" lengthAdjust="spacing" fill="#222" stroke="#222" stroke-width="0.18" xml:space="preserve">56 ms</text>
<rect x="41.00" y="332.80" width="726.00" height="3.00" fill="#ffa000" />
<text transform="translate(322.86,167.40) scale(1,1.12)" font-family="'DejaVu Sans Mono','Liberation Mono',monospace" font-size="10.1" textLength="18.24" lengthAdjust="spacing" fill="#222" stroke="#222" stroke-width="0.18" xml:space="preserve">0.1</text>
<text transform="translate(322.86,538.30) scale(1,1.12)" font-family="'DejaVu Sans Mono','Liberation Mono',monospace" font-size="10.1" textLength="18.24" lengthAdjust="spacing" fill="#222" stroke="#222" stroke-width="0.18" xml:space="preserve">0.1</text>
<text transform="translate(364.44,167.40) scale(1,1.12)" font-family="'DejaVu Sans Mono','Liberation Mono',monospace" font-size="10.1" textLength="18.24" lengthAdjust="spacing" fill="#222" stroke="#222" stroke-width="0.18" xml:space="preserve">0.2</text>
<text transform="translate(364.44,538.30) scale(1,1.12)" font-family="'DejaVu Sans Mono','Liberation Mono',monospace" font-size="10.1" textLength="18.24" lengthAdjust="spacing" fill="#222" stroke="#222" stroke-width="0.18" xml:space="preserve">0.2</text>
<text transform="translate(406.02,167.40) scale(1,1.12)" font-family="'DejaVu Sans Mono','Liberation Mono',monospace" font-size="10.1" textLength="18.24" lengthAdjust="spacing" fill="#222" stroke="#222" stroke-width="0.18" xml:space="preserve">0.3</text>
<text transform="translate(406.02,538.30) scale(1,1.12)" font-family="'DejaVu Sans Mono','Liberation Mono',monospace" font-size="10.1" textLength="18.24" lengthAdjust="spacing" fill="#222" stroke="#222" stroke-width="0.18" xml:space="preserve">0.3</text>
<text transform="translate(447.60,167.40) scale(1,1.12)" font-family="'DejaVu Sans Mono','Liberation Mono',monospace" font-size="10.1" textLength="18.24" lengthAdjust="spacing" fill="#222" stroke="#222" stroke-width="0.18" xml:space="preserve">0.4</text>
<text transform="translate(447.60,538.30) scale(1,1.12)" font-family="'DejaVu Sans Mono','Liberation Mono',monospace" font-size="10.1" textLength="18.24" lengthAdjust="spacing" fill="#222" stroke="#222" stroke-width="0.18" xml:space="preserve">0.4</text>
<text transform="translate(489.18,167.40) scale(1,1.12)" font-family="'DejaVu Sans Mono','Liberation Mono',monospace" font-size="10.1" textLength="18.24" lengthAdjust="spacing" fill="#222" stroke="#222" stroke-width="0.18" xml:space="preserve">0.5</text>
<text transform="translate(489.18,538.30) scale(1,1.12)" font-family="'DejaVu Sans Mono','Liberation Mono',monospace" font-size="10.1" textLength="18.24" lengthAdjust="spacing" fill="#222" stroke="#222" stroke-width="0.18" xml:space="preserve">0.5</text>
<text transform="translate(530.76,167.40) scale(1,1.12)" font-family="'DejaVu Sans Mono','Liberation Mono',monospace" font-size="10.1" textLength="18.24" lengthAdjust="spacing" fill="#222" stroke="#222" stroke-width="0.18" xml:space="preserve">0.6</text>
<text transform="translate(530.76,538.30) scale(1,1.12)" font-family="'DejaVu Sans Mono','Liberation Mono',monospace" font-size="10.1" textLength="18.24" lengthAdjust="spacing" fill="#222" stroke="#222" stroke-width="0.18" xml:space="preserve">0.6</text>
<text transform="translate(572.34,167.40) scale(1,1.12)" font-family="'DejaVu Sans Mono','Liberation Mono',monospace" font-size="10.1" textLength="18.24" lengthAdjust="spacing" fill="#222" stroke="#222" stroke-width="0.18" xml:space="preserve">0.7</text>
<text transform="translate(572.34,538.30) scale(1,1.12)" font-family="'DejaVu Sans Mono','Liberation Mono',monospace" font-size="10.1" textLength="18.24" lengthAdjust="spacing" fill="#222" stroke="#222" stroke-width="0.18" xml:space="preserve">0.7</text>
<text transform="translate(613.92,167.40) scale(1,1.12)" font-family="'DejaVu Sans Mono','Liberation Mono',monospace" font-size="10.1" textLength="18.24" lengthAdjust="spacing" fill="#222" stroke="#222" stroke-width="0.18" xml:space="preserve">0.8</text>
<text transform="translate(613.92,538.30) scale(1,1.12)" font-family="'DejaVu Sans Mono','Liberation Mono',monospace" font-size="10.1" textLength="18.24" lengthAdjust="spacing" fill="#222" stroke="#222" stroke-width="0.18" xml:space="preserve">0.8</text>
<text transform="translate(655.50,167.40) scale(1,1.12)" font-family="'DejaVu Sans Mono','Liberation Mono',monospace" font-size="10.1" textLength="18.24" lengthAdjust="spacing" fill="#222" stroke="#222" stroke-width="0.18" xml:space="preserve">0.9</text>
<text transform="translate(655.50,538.30) scale(1,1.12)" font-family="'DejaVu Sans Mono','Liberation Mono',monospace" font-size="10.1" textLength="18.24" lengthAdjust="spacing" fill="#222" stroke="#222" stroke-width="0.18" xml:space="preserve">0.9</text>
<text transform="translate(697.08,167.40) scale(1,1.12)" font-family="'DejaVu Sans Mono','Liberation Mono',monospace" font-size="10.1" textLength="18.24" lengthAdjust="spacing" fill="#222" stroke="#222" stroke-width="0.18" xml:space="preserve">1.0</text>
<text transform="translate(697.08,538.30) scale(1,1.12)" font-family="'DejaVu Sans Mono','Liberation Mono',monospace" font-size="10.1" textLength="18.24" lengthAdjust="spacing" fill="#222" stroke="#222" stroke-width="0.18" xml:space="preserve">1.0</text>
<text transform="translate(738.66,167.40) scale(1,1.12)" font-family="'DejaVu Sans Mono','Liberation Mono',monospace" font-size="10.1" textLength="18.24" lengthAdjust="spacing" fill="#222" stroke="#222" stroke-width="0.18" xml:space="preserve">1.1</text>
<text transform="translate(738.66,538.30) scale(1,1.12)" font-family="'DejaVu Sans Mono','Liberation Mono',monospace" font-size="10.1" textLength="18.24" lengthAdjust="spacing" fill="#222" stroke="#222" stroke-width="0.18" xml:space="preserve">1.1</text>
<text transform="translate(780.24,167.40) scale(1,1.12)" font-family="'DejaVu Sans Mono','Liberation Mono',monospace" font-size="10.1" textLength="18.24" lengthAdjust="spacing" fill="#222" stroke="#222" stroke-width="0.18" xml:space="preserve">1.2</text>
<text transform="translate(780.24,538.30) scale(1,1.12)" font-family="'DejaVu Sans Mono','Liberation Mono',monospace" font-size="10.1" textLength="18.24" lengthAdjust="spacing" fill="#222" stroke="#222" stroke-width="0.18" xml:space="preserve">1.2</text>
<text transform="translate(821.82,167.40) scale(1,1.12)" font-family="'DejaVu Sans Mono','Liberation Mono',monospace" font-size="10.1" textLength="18.24" lengthAdjust="spacing" fill="#222" stroke="#222" stroke-width="0.18" xml:space="preserve">1.3</text>
<text transform="translate(821.82,538.30) scale(1,1.12)" font-family="'DejaVu Sans Mono','Liberation Mono',monospace" font-size="10.1" textLength="18.24" lengthAdjust="spacing" fill="#222" stroke="#222" stroke-width="0.18" xml:space="preserve">1.3</text>
<text transform="translate(863.40,167.40) scale(1,1.12)" font-family="'DejaVu Sans Mono','Liberation Mono',monospace" font-size="10.1" textLength="18.24" lengthAdjust="spacing" fill="#222" stroke="#222" stroke-width="0.18" xml:space="preserve">1.4</text>
<text transform="translate(863.40,538.30) scale(1,1.12)" font-family="'DejaVu Sans Mono','Liberation Mono',monospace" font-size="10.1" textLength="18.24" lengthAdjust="spacing" fill="#222" stroke="#222" stroke-width="0.18" xml:space="preserve">1.4</text>
<text transform="translate(904.98,167.40) scale(1,1.12)" font-family="'DejaVu Sans Mono','Liberation Mono',monospace" font-size="10.1" textLength="18.24" lengthAdjust="spacing" fill="#222" stroke="#222" stroke-width="0.18" xml:space="preserve">1.5</text>
<text transform="translate(904.98,538.30) scale(1,1.12)" font-family="'DejaVu Sans Mono','Liberation Mono',monospace" font-size="10.1" textLength="18.24" lengthAdjust="spacing" fill="#222" stroke="#222" stroke-width="0.18" xml:space="preserve">1.5</text>
<text transform="translate(946.56,167.40) scale(1,1.12)" font-family="'DejaVu Sans Mono','Liberation Mono',monospace" font-size="10.1" textLength="18.24" lengthAdjust="spacing" fill="#222" stroke="#222" stroke-width="0.18" xml:space="preserve">1.6</text>
<text transform="translate(946.56,538.30) scale(1,1.12)" font-family="'DejaVu Sans Mono','Liberation Mono',monospace" font-size="10.1" textLength="18.24" lengthAdjust="spacing" fill="#222" stroke="#222" stroke-width="0.18" xml:space="preserve">1.6</text>
<text transform="translate(988.14,167.40) scale(1,1.12)" font-family="'DejaVu Sans Mono','Liberation Mono',monospace" font-size="10.1" textLength="18.24" lengthAdjust="spacing" fill="#222" stroke="#222" stroke-width="0.18" xml:space="preserve">1.7</text>
<text transform="translate(988.14,538.30) scale(1,1.12)" font-family="'DejaVu Sans Mono','Liberation Mono',monospace" font-size="10.1" textLength="18.24" lengthAdjust="spacing" fill="#222" stroke="#222" stroke-width="0.18" xml:space="preserve">1.7</text>
<text transform="translate(1029.72,167.40) scale(1,1.12)" font-family="'DejaVu Sans Mono','Liberation Mono',monospace" font-size="10.1" textLength="18.24" lengthAdjust="spacing" fill="#222" stroke="#222" stroke-width="0.18" xml:space="preserve">1.8</text>
<text transform="translate(1029.72,538.30) scale(1,1.12)" font-family="'DejaVu Sans Mono','Liberation Mono',monospace" font-size="10.1" textLength="18.24" lengthAdjust="spacing" fill="#222" stroke="#222" stroke-width="0.18" xml:space="preserve">1.8</text>
<text transform="translate(41.00,170.20) scale(1,1.12)" font-family="'DejaVu Sans Mono','Liberation Mono',monospace" font-size="10.1" textLength="36.48" lengthAdjust="spacing" fill="#222" stroke="#222" stroke-width="0.18" xml:space="preserve">Step_1</text>
<path d="M292.5 592.0 L292.5 558.3 L335.4 558.3 L335.4 555.5 L377.3 555.5 L377.3 587.5 L419.1 587.5 L419.1 581.7 L461.0 581.7 L461.0 583.2 L502.8 583.2 L502.8 580.2 L544.7 580.2 L544.7 572.2 L586.6 572.2 L586.6 553.7 L628.4 553.7 L628.4 564.8 L670.3 564.8 L670.3 567.5 L712.1 567.5 L712.1 552.2 L754.0 552.2 L754.0 551.0 L795.9 551.0 L795.9 563.8 L837.7 563.8 L837.7 570.0 L879.6 570.0 L879.6 561.7 L921.4 561.7 L921.4 553.7 L963.3 553.7 L963.3 562.3 L1005.2 562.3 L1005.2 562.3 L1047.0 562.3 L1047.0 563.8 L1063.0 563.8" fill="none" stroke="#f2a365" stroke-width="1.2"/>
<rect x="584.60" y="643.00" width="478.40" height="16.00" fill="#ade88f" />
<rect x="48.00" y="566.40" width="35.50" height="1.00" fill="#f2a365" />
<text transform="translate(87.40,572.30) scale(1,1.12)" font-family="'DejaVu Sans Mono','Liberation Mono',monospace" font-size="10.1" textLength="91.20" lengthAdjust="spacing" fill="#222" stroke="#222" stroke-width="0.18" xml:space="preserve">CPU Utilization</text>
<rect x="48.00" y="616.80" width="35.50" height="1.00" fill="#5a9a5a" />
<text transform="translate(87.40,621.90) scale(1,1.12)" font-family="'DejaVu Sans Mono','Liberation Mono',monospace" font-size="10.1" textLength="176.32" lengthAdjust="spacing" fill="#222" stroke="#222" stroke-width="0.18" xml:space="preserve">Bandwidth In (0 - 5,000 Kbps)</text>
<text transform="translate(87.40,655.40) scale(1,1.12)" font-family="'DejaVu Sans Mono','Liberation Mono',monospace" font-size="10.1" textLength="60.80" lengthAdjust="spacing" fill="#222" stroke="#222" stroke-width="0.18" xml:space="preserve">Long Tasks</text>
<rect x="37.00" y="153.00" width="1027.00" height="1.00" fill="#2a2a2a" />
<rect x="37.00" y="659.00" width="1027.00" height="1.00" fill="#2a2a2a" />
<rect x="37.00" y="153.00" width="1.00" height="507.00" fill="#2a2a2a" />
<rect x="1063.00" y="153.00" width="1.00" height="507.00" fill="#2a2a2a" />
<rect x="291.00" y="153.00" width="1.00" height="507.00" fill="#2a2a2a" />
<rect x="37.00" y="542.00" width="1027.00" height="1.00" fill="#2a2a2a" />
<rect x="37.00" y="592.00" width="1027.00" height="1.00" fill="#2a2a2a" />
<rect x="37.00" y="642.00" width="1027.00" height="1.00" fill="#2a2a2a" />
<path d="M292.5 641.8 L335.4 641.8 L335.4 641.8 L377.3 641.8 L377.3 638.3 L419.1 638.3 L419.1 640.2 L461.0 640.2 L461.0 641.8 L502.8 641.8 L502.8 641.8 L544.7 641.8 L544.7 629.0 L586.6 629.0 L586.6 592.9 L628.4 592.9 L628.4 592.9 L670.3 592.9 L670.3 614.0 L712.1 614.0 L712.1 636.2 L754.0 636.2 L754.0 605.4 L795.9 605.4 L795.9 641.8 L837.7 641.8 L837.7 592.9 L879.6 592.9 L879.6 611.5 L921.4 611.5 L921.4 634.3 L963.3 634.3 L963.3 641.8 L1005.2 641.8 L1005.2 641.8 L1047.0 641.8 L1047.0 641.8 L1063.0 641.8" fill="none" stroke="#1f6f1f" stroke-width="1.1"/>
</svg>
</body>
</html>
